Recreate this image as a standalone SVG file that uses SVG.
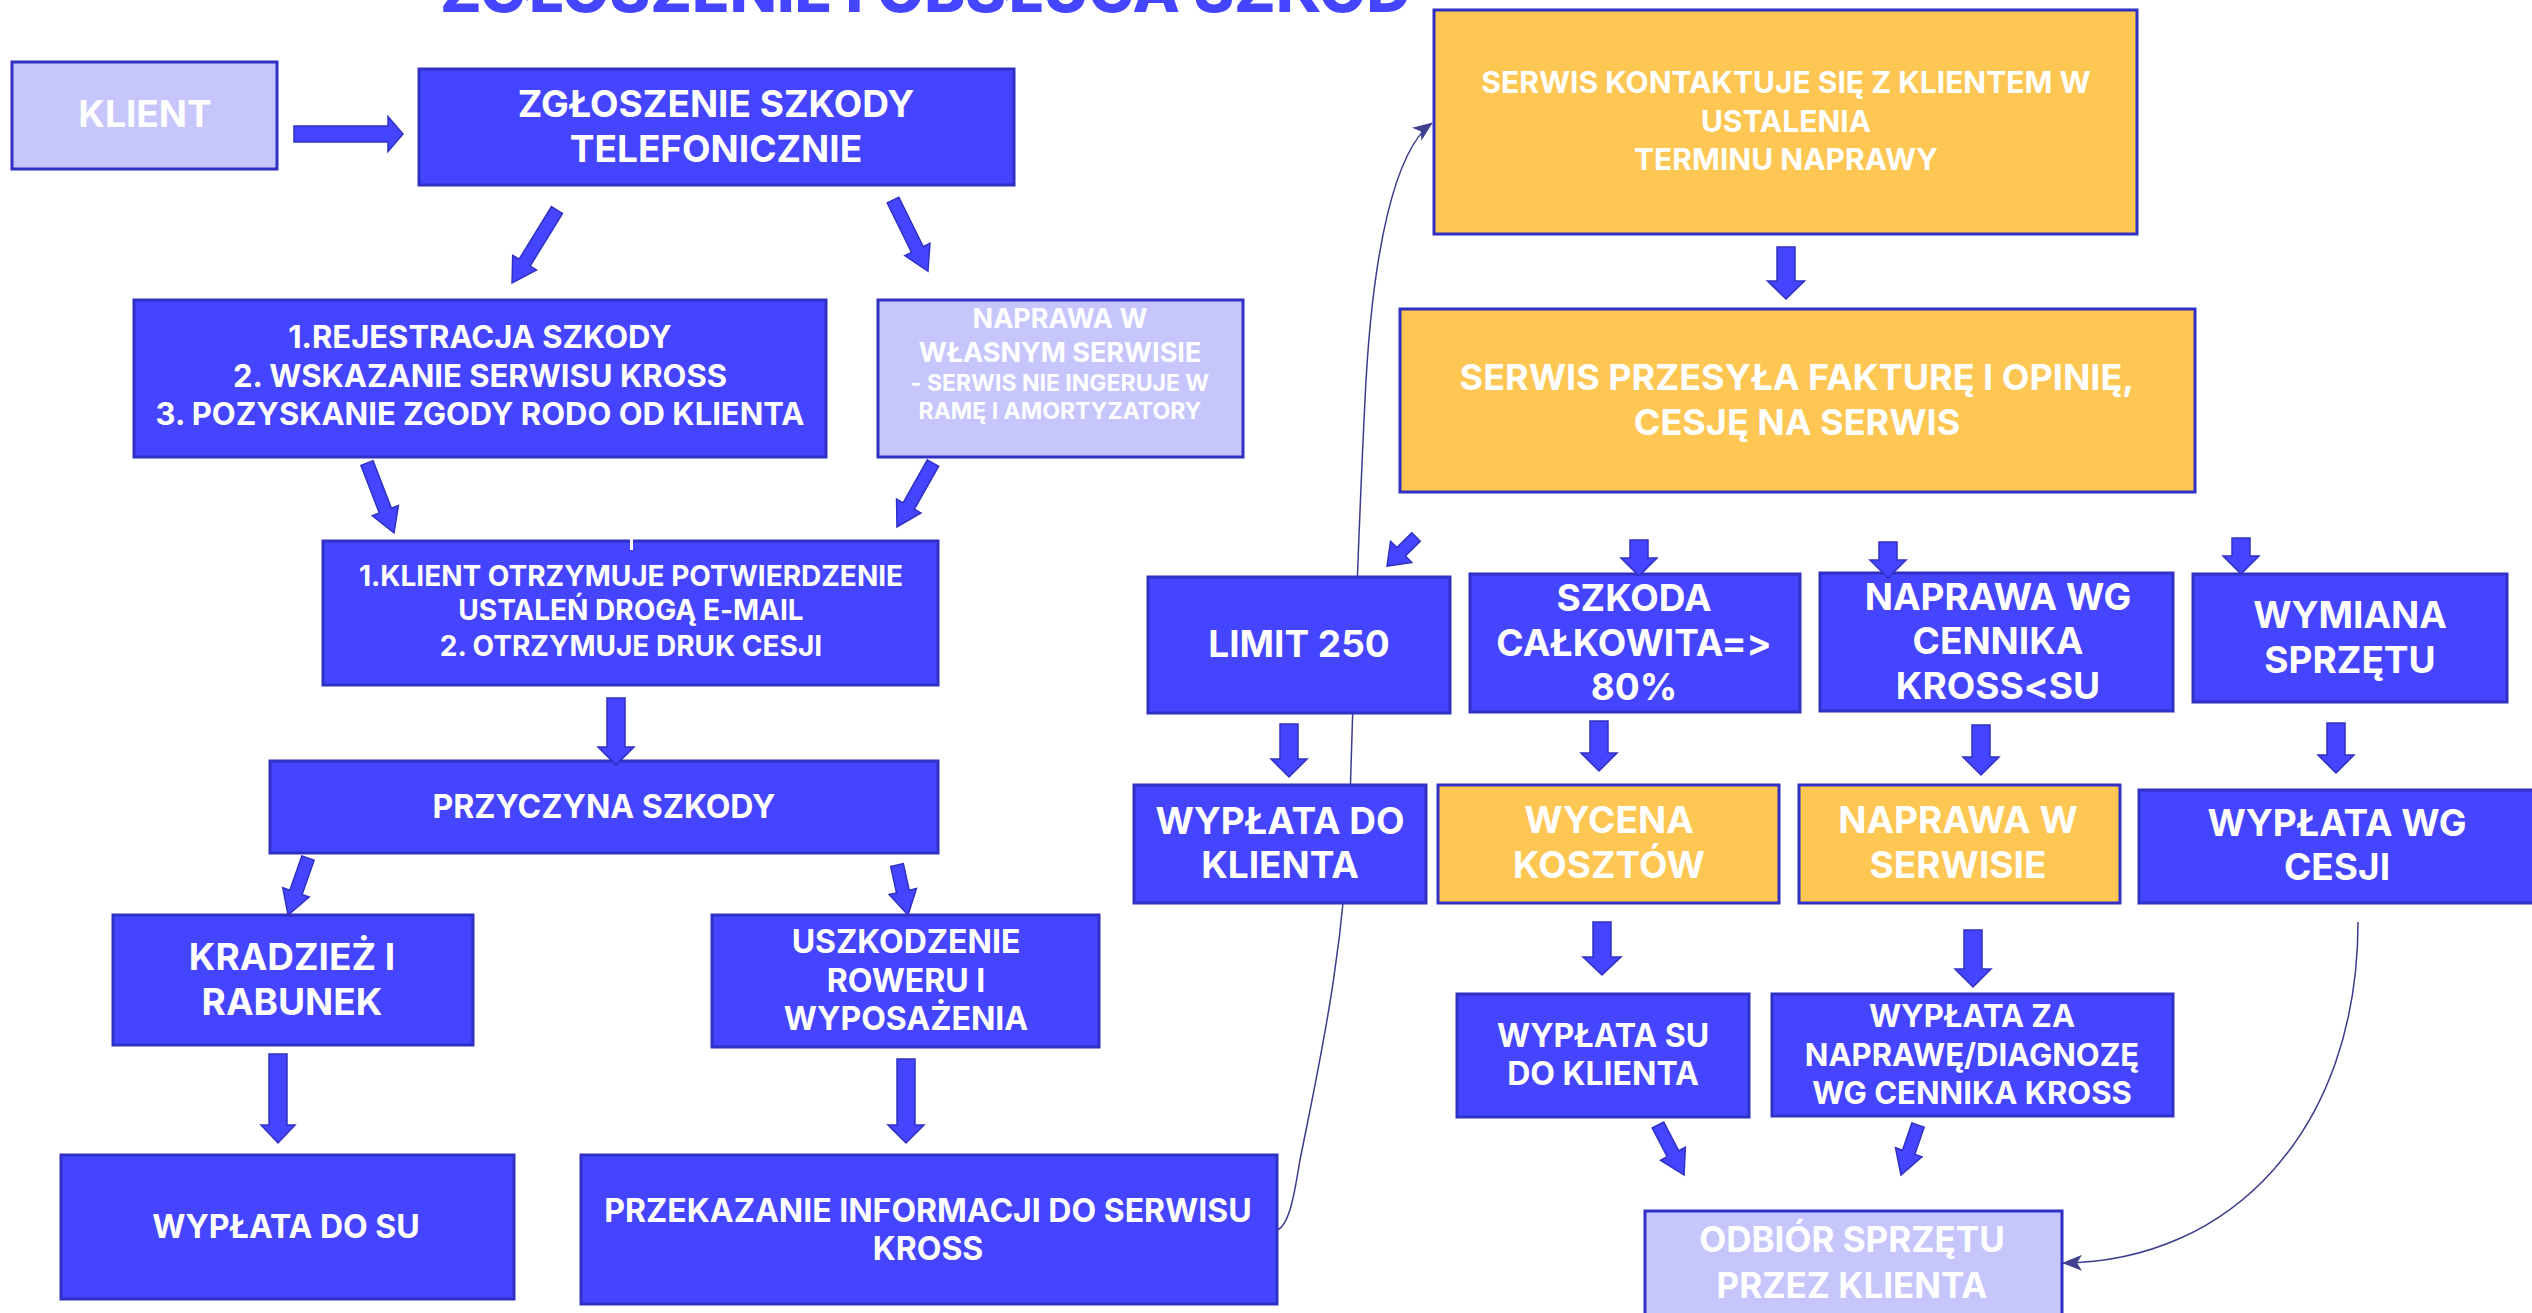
<svg xmlns="http://www.w3.org/2000/svg" width="2532" height="1313" viewBox="0 0 2532 1313">
<defs>
<style>
.b{fill:#4545ff;stroke:#3030c4;stroke-width:3}
.l{fill:#c6c6fc;stroke:#3030c4;stroke-width:3}
.y{fill:#fec653;stroke:#3030c4;stroke-width:3}
.t{font-family:Inter,"Noto Sans","DejaVu Sans",sans-serif;font-weight:700;fill:#ffffff;text-anchor:middle;font-variant-ligatures:none;font-feature-settings:"calt" 0,"liga" 0}
.ar{fill:#4545ff;stroke:#3030c4;stroke-width:1.5;stroke-linejoin:miter}
.cn{fill:none;stroke:#3c3c8c;stroke-width:1.5}
</style>
<marker id="tri" viewBox="0 0 20 16" refX="19" refY="8" markerWidth="20" markerHeight="16" markerUnits="userSpaceOnUse" orient="auto">
<path d="M0,0 L20,8 L0,16 L5,8 Z" fill="#404090"/>
</marker>
</defs>
<rect width="2532" height="1313" fill="#ffffff"/>
<text x="440" y="12" textLength="971" lengthAdjust="spacingAndGlyphs" style="font-family:Inter,'Noto Sans',sans-serif;font-weight:800;font-size:60px;fill:#4545ff">ZGŁOSZENIE I OBSŁUGA SZKÓD</text>

<g id="connectors-under">
<path class="cn" d="M1277,1230 C1290,1225 1295,1190 1300,1160 C1320,1060 1345,950 1350,800 C1356,600 1360,500 1365,400 C1372,250 1395,150 1432,123" marker-end="url(#tri)"/>
<path class="cn" d="M2358,922 C2358,1130 2230,1262 2063,1263" marker-end="url(#tri)"/>
</g>

<g id="n-klient"><rect class="l" x="12" y="62" width="265" height="107"/><text class="t" x="145" y="127" font-size="37">KLIENT</text></g>
<g id="n-zgloszenie"><rect class="b" x="419" y="69" width="595" height="116"/><text class="t" x="716" font-size="37"><tspan x="716" y="117">ZGŁOSZENIE SZKODY</tspan><tspan x="716" y="162">TELEFONICZNIE</tspan></text></g>
<g id="n-rejestracja"><rect class="b" x="134" y="300" width="692" height="157"/><text class="t" font-size="31"><tspan x="480" y="348">1.REJESTRACJA SZKODY</tspan><tspan x="480" y="387">2. WSKAZANIE SERWISU KROSS</tspan><tspan x="480" y="425">3. POZYSKANIE ZGODY RODO OD KLIENTA</tspan></text></g>
<g id="n-naprawa-wlasny"><rect class="l" x="878" y="300" width="365" height="157"/><text class="t"><tspan x="1060" y="328" font-size="27">NAPRAWA W</tspan><tspan x="1060" y="362" font-size="27">WŁASNYM SERWISIE</tspan><tspan x="1060" y="391" font-size="23">- SERWIS NIE INGERUJE W</tspan><tspan x="1060" y="419" font-size="23">RAMĘ I AMORTYZATORY</tspan></text></g>
<g id="n-potwierdzenie"><rect class="b" x="323" y="541" width="615" height="144"/><rect x="630" y="539" width="3" height="11" fill="#ffffff"/><text class="t" font-size="28"><tspan x="631" y="586">1.KLIENT OTRZYMUJE POTWIERDZENIE</tspan><tspan x="631" y="620">USTALEŃ DROGĄ E-MAIL</tspan><tspan x="631" y="656">2. OTRZYMUJE DRUK CESJI</tspan></text></g>
<g id="n-przyczyna"><rect class="b" x="270" y="761" width="668" height="92"/><text class="t" x="604" y="818" font-size="32">PRZYCZYNA SZKODY</text></g>
<g id="n-kradziez"><rect class="b" x="113" y="915" width="360" height="130"/><text class="t" font-size="37"><tspan x="292" y="970">KRADZIEŻ I</tspan><tspan x="292" y="1015">RABUNEK</tspan></text></g>
<g id="n-uszkodzenie"><rect class="b" x="712" y="915" width="387" height="132"/><text class="t" font-size="32"><tspan x="906" y="953">USZKODZENIE</tspan><tspan x="906" y="992">ROWERU I</tspan><tspan x="906" y="1030">WYPOSAŻENIA</tspan></text></g>
<g id="n-wyplata-su"><rect class="b" x="61" y="1155" width="453" height="144"/><text class="t" x="286" y="1238" font-size="32">WYPŁATA DO SU</text></g>
<g id="n-przekazanie"><rect class="b" x="581" y="1155" width="696" height="149"/><text class="t" font-size="32"><tspan x="928" y="1222">PRZEKAZANIE INFORMACJI DO SERWISU</tspan><tspan x="928" y="1260">KROSS</tspan></text></g>

<g id="n-serwis-kontaktuje"><rect class="y" x="1434" y="10" width="703" height="224"/><text class="t" font-size="30"><tspan x="1786" y="93">SERWIS KONTAKTUJE SIĘ Z KLIENTEM W</tspan><tspan x="1786" y="132">USTALENIA</tspan><tspan x="1786" y="170">TERMINU NAPRAWY</tspan></text></g>
<g id="n-serwis-przesyla"><rect class="y" x="1400" y="309" width="795" height="183"/><text class="t" font-size="36"><tspan x="1797" y="390">SERWIS PRZESYŁA FAKTURĘ I OPINIĘ,</tspan><tspan x="1797" y="435">CESJĘ NA SERWIS</tspan></text></g>
<g id="n-limit"><rect class="b" x="1148" y="577" width="302" height="136"/><text class="t" x="1299" y="657" font-size="37">LIMIT 250</text></g>
<g id="n-szkoda-calkowita"><rect class="b" x="1470" y="574" width="330" height="138"/><text class="t" font-size="37"><tspan x="1634" y="611">SZKODA</tspan><tspan x="1634" y="656">CAŁKOWITA=&gt;</tspan><tspan x="1634" y="700">80%</tspan></text></g>
<g id="n-naprawa-cennik"><rect class="b" x="1820" y="573" width="353" height="138"/><text class="t" font-size="37"><tspan x="1998" y="610">NAPRAWA WG</tspan><tspan x="1998" y="654">CENNIKA</tspan><tspan x="1998" y="699">KROSS&lt;SU</tspan></text></g>
<g id="n-wymiana"><rect class="b" x="2193" y="574" width="314" height="128"/><text class="t" font-size="37"><tspan x="2350" y="628">WYMIANA</tspan><tspan x="2350" y="673">SPRZĘTU</tspan></text></g>
<g id="n-wyplata-klienta"><rect class="b" x="1134" y="785" width="292" height="118"/><text class="t" font-size="37"><tspan x="1280" y="834">WYPŁATA DO</tspan><tspan x="1280" y="878">KLIENTA</tspan></text></g>
<g id="n-wycena"><rect class="y" x="1438" y="785" width="341" height="118"/><text class="t" font-size="37"><tspan x="1609" y="833">WYCENA</tspan><tspan x="1609" y="878">KOSZTÓW</tspan></text></g>
<g id="n-naprawa-serwis"><rect class="y" x="1799" y="785" width="321" height="118"/><text class="t" font-size="37"><tspan x="1958" y="833">NAPRAWA W</tspan><tspan x="1958" y="878">SERWISIE</tspan></text></g>
<g id="n-wyplata-cesji"><rect class="b" x="2139" y="790" width="400" height="113"/><text class="t" font-size="37"><tspan x="2337" y="836">WYPŁATA WG</tspan><tspan x="2337" y="880">CESJI</tspan></text></g>
<g id="n-wyplata-su-klienta"><rect class="b" x="1457" y="994" width="292" height="123"/><text class="t" font-size="32"><tspan x="1603" y="1047">WYPŁATA SU</tspan><tspan x="1603" y="1085">DO KLIENTA</tspan></text></g>
<g id="n-wyplata-naprawa"><rect class="b" x="1772" y="994" width="401" height="122"/><text class="t" font-size="31"><tspan x="1972" y="1027">WYPŁATA ZA</tspan><tspan x="1972" y="1066">NAPRAWĘ/DIAGNOZĘ</tspan><tspan x="1972" y="1104">WG CENNIKA KROSS</tspan></text></g>
<g id="n-odbior"><rect class="l" x="1645" y="1211" width="417" height="110"/><text class="t" font-size="35"><tspan x="1852" y="1252">ODBIÓR SPRZĘTU</tspan><tspan x="1852" y="1298">PRZEZ KLIENTA</tspan></text></g>

<g id="connectors">
<path class="ar" transform="translate(294,134) rotate(-90)" d="M-8,0H8V94H17.5L0,109L-17.5,94H-8Z"/>
<path class="ar" transform="translate(557,210) rotate(31.6)" d="M-6.5,0H6.5V61.8H14L0,85.8L-14,61.8H-6.5Z"/>
<path class="ar" transform="translate(893,200) rotate(-26.2)" d="M-6.5,0H6.5V55.2H14L0,79.2L-14,55.2H-6.5Z"/>
<path class="ar" transform="translate(367,463) rotate(-21.1)" d="M-6.5,0H6.5V51H14L0,75L-14,51H-6.5Z"/>
<path class="ar" transform="translate(933,463) rotate(29.4)" d="M-6.5,0H6.5V49.4H14L0,73.4L-14,49.4H-6.5Z"/>
<path class="ar" transform="translate(616,698)" d="M-9,0H9V49H18L0,67L-18,49H-9Z"/>
<path class="ar" transform="translate(308,858) rotate(19.3)" d="M-6.5,0H6.5V36.4H14L0,60.4L-14,36.4H-6.5Z"/>
<path class="ar" transform="translate(897,865) rotate(-12.4)" d="M-6.5,0H6.5V27.2H14L0,51.2L-14,27.2H-6.5Z"/>
<path class="ar" transform="translate(278,1054)" d="M-9,0H9V71H17L0,89L-17,71H-9Z"/>
<path class="ar" transform="translate(906,1059)" d="M-9,0H9V66H18L0,84L-18,66H-9Z"/>
<path class="ar" transform="translate(1786,247)" d="M-9,0H9V34H18.5L0,52L-18.5,34H-9Z"/>
<path class="ar" transform="translate(1416,537) rotate(45)" d="M-6,0H6V21H15L0,41L-15,21H-6Z"/>
<path class="ar" transform="translate(1639,540)" d="M-9,0H9V18H18L0,36L-18,18H-9Z"/>
<path class="ar" transform="translate(1888,542)" d="M-9,0H9V18H18L0,36L-18,18H-9Z"/>
<path class="ar" transform="translate(2241,538)" d="M-9,0H9V18H18L0,36L-18,18H-9Z"/>
<path class="ar" transform="translate(1289,724)" d="M-9,0H9V35H18L0,53L-18,35H-9Z"/>
<path class="ar" transform="translate(1599,721)" d="M-9,0H9V32H18L0,50L-18,32H-9Z"/>
<path class="ar" transform="translate(1981,725)" d="M-9,0H9V32H18L0,50L-18,32H-9Z"/>
<path class="ar" transform="translate(2336,723)" d="M-9,0H9V32H18L0,50L-18,32H-9Z"/>
<path class="ar" transform="translate(1602,922)" d="M-9,0H9V35H19L0,53L-19,35H-9Z"/>
<path class="ar" transform="translate(1973,930)" d="M-9,0H9V39H18L0,57L-18,39H-9Z"/>
<path class="ar" transform="translate(1658,1125) rotate(-27.5)" d="M-6.5,0H6.5V32.4H14L0,56.4L-14,32.4H-6.5Z"/>
<path class="ar" transform="translate(1918,1125) rotate(18.8)" d="M-6.5,0H6.5V28.8H14L0,52.8L-14,28.8H-6.5Z"/>
</g>
</svg>
